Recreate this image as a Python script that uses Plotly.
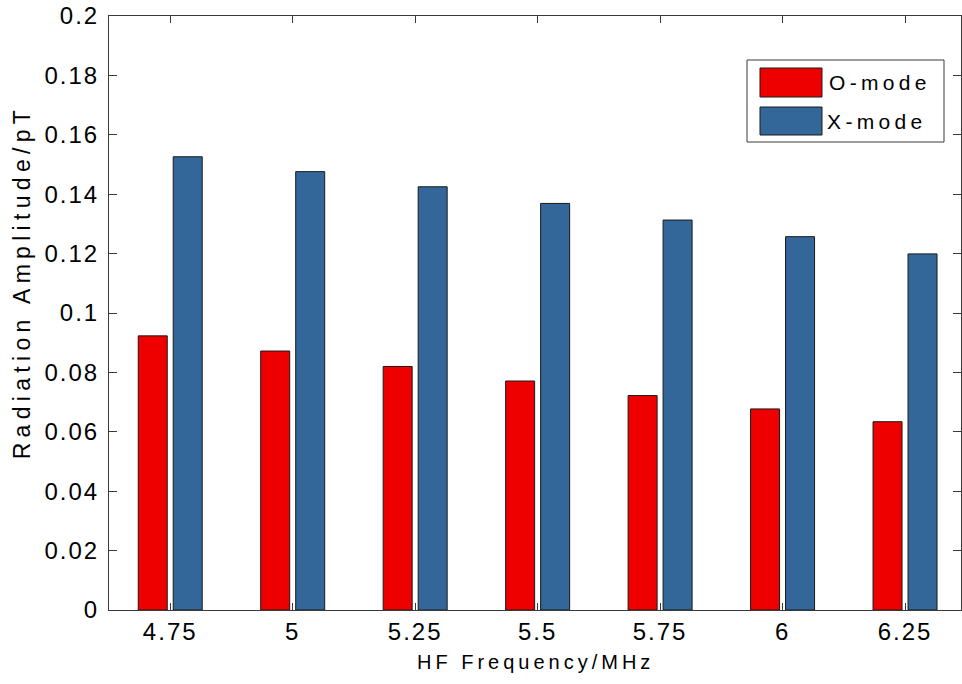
import plotly.graph_objects as go

# ---- data ----
frequencies = ["4.75", "5", "5.25", "5.5", "5.75", "6", "6.25"]
o_mode = [0.0923, 0.0872, 0.0820, 0.0771, 0.0722, 0.0677, 0.0634]
x_mode = [0.1526, 0.1476, 0.1425, 0.1369, 0.1313, 0.1257, 0.1199]
y_tick_vals = [0, 0.02, 0.04, 0.06, 0.08, 0.1, 0.12, 0.14, 0.16, 0.18, 0.2]
y_tick_text = ["0", "0.02", "0.04", "0.06", "0.08", "0.1", "0.12", "0.14", "0.16", "0.18", "0.2"]
series_names = ["O-mode", "X-mode"]

RED = "#EE0000"
BLUE = "#336699"
EDGE = "#1a1a1a"
AX = "#3a3a3a"
FONT = "Liberation Sans, Arial, sans-serif"

W, H = 962, 684
L, R, T, B = 109, 1, 16, 74
pw, ph = W - L - R, H - T - B


def px(x):
    return (x - L) / pw


def py(y):
    return (H - B - y) / ph


fig = go.Figure()
fig.add_trace(go.Bar(x=frequencies, y=o_mode, name=series_names[0],
                     marker=dict(color=RED, line=dict(color=EDGE, width=1)),
                     showlegend=False))
fig.add_trace(go.Bar(x=frequencies, y=x_mode, name=series_names[1],
                     marker=dict(color=BLUE, line=dict(color=EDGE, width=1)),
                     showlegend=False))

fig.update_layout(
    width=W, height=H,
    margin=dict(l=L, r=R, t=T, b=B),
    paper_bgcolor="white", plot_bgcolor="white",
    barmode="group", bargap=0.4286, bargroupgap=0.171,
    font=dict(family=FONT, color="black"),
)

fig.update_xaxes(
    type="category", range=[-0.5, 6.457],
    showline=True, linecolor=AX, linewidth=1, mirror="ticks",
    ticks="inside", ticklen=7, tickcolor=AX, tickwidth=1,
    showgrid=False, zeroline=False,
    tickfont=dict(family=FONT, size=24, color="black"),
)
fig.update_yaxes(
    range=[0, 0.2], tickvals=y_tick_vals, ticktext=y_tick_text,
    showline=True, linecolor=AX, linewidth=1, mirror="ticks",
    ticks="inside", ticklen=8, tickcolor=AX, tickwidth=1,
    showgrid=False, zeroline=False,
    tickfont=dict(family=FONT, size=24, color="black"),
    ticklabelstandoff=4,
)

# axis titles
fig.add_annotation(text="HF Frequency/MHz", xref="paper", yref="paper",
                   x=px(535.5), y=py(662), xanchor="center", yanchor="middle",
                   showarrow=False, font=dict(family=FONT, size=20, color="black"))
fig.add_annotation(text="Radiation Amplitude/pT", xref="paper", yref="paper",
                   x=px(22), y=py(282), xanchor="center", yanchor="middle",
                   textangle=-90, showarrow=False,
                   font=dict(family=FONT, size=23, color="black"))

# legend box (drawn manually to match swatch size)
fig.add_shape(type="rect", xref="paper", yref="paper",
              x0=px(747), x1=px(944), y0=py(142), y1=py(60),
              line=dict(color=AX, width=1), fillcolor="white", layer="above")
fig.add_shape(type="rect", xref="paper", yref="paper",
              x0=px(760), x1=px(822), y0=py(97), y1=py(68),
              line=dict(color=EDGE, width=1), fillcolor=RED, layer="above")
fig.add_shape(type="rect", xref="paper", yref="paper",
              x0=px(760), x1=px(822), y0=py(135), y1=py(107),
              line=dict(color=EDGE, width=1), fillcolor=BLUE, layer="above")
fig.add_annotation(text=series_names[0], xref="paper", yref="paper",
                   x=px(880), y=py(83), xanchor="center", yanchor="middle",
                   showarrow=False, font=dict(family=FONT, size=21, color="black"))
fig.add_annotation(text=series_names[1], xref="paper", yref="paper",
                   x=px(876.5), y=py(121), xanchor="center", yanchor="middle",
                   showarrow=False, font=dict(family=FONT, size=21, color="black"))

post = """
var gd = document.getElementById('{plot_id}');
gd.querySelectorAll('.xtick text, .ytick text').forEach(function(e){e.style.letterSpacing='2px';});
var anns = gd.querySelectorAll('.annotation-text');
anns.forEach(function(e){
  var t = e.textContent;
  if (t.indexOf('HF') === 0) e.style.letterSpacing = '4px';
  else if (t.indexOf('Radiation') === 0) e.style.letterSpacing = '5.3px';
  else e.style.letterSpacing = '4.3px';
});
"""

fig.write_html("out.html", post_script=post)
